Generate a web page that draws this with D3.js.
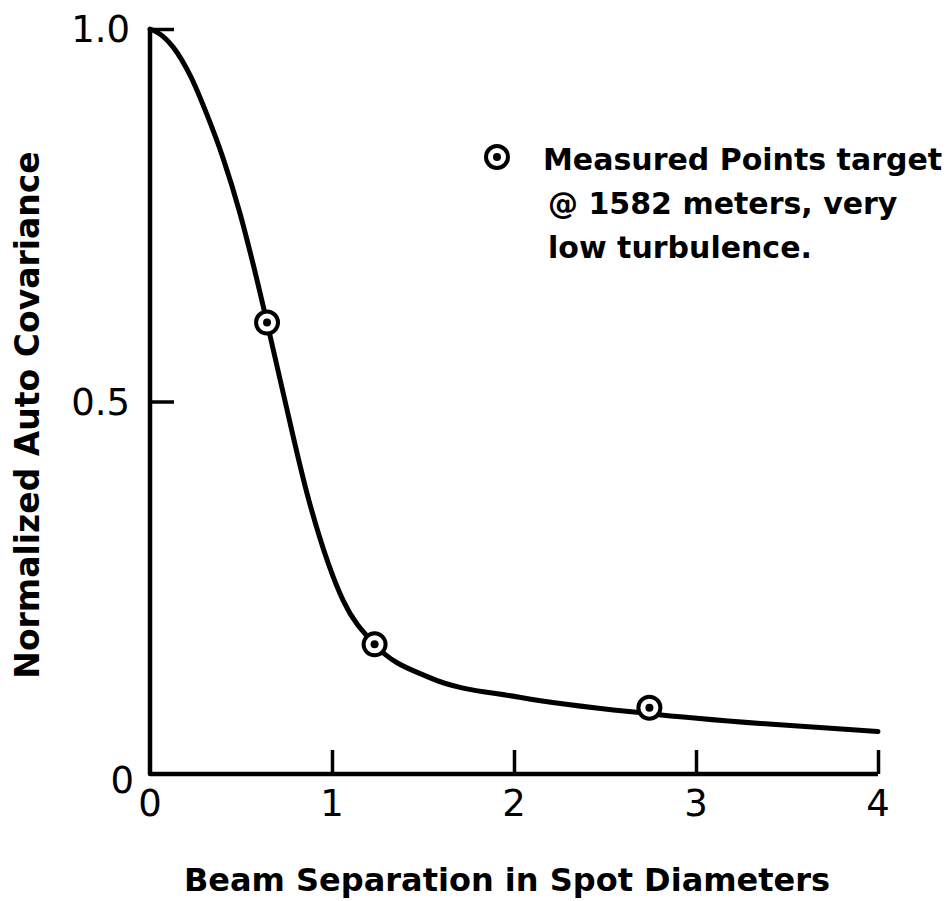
<!DOCTYPE html>
<html><head><meta charset="utf-8">
<script src="https://cdn.jsdelivr.net/npm/d3@7/dist/d3.min.js"></script>
<style>body{margin:0;background:#fff;} svg{display:block;} text{font-family:"DejaVu Sans",sans-serif;fill:#000;}</style>
</head><body>
<svg id="c" width="947" height="901"></svg>
<script>
// ---- data ----
const xTicks = [0, 1, 2, 3, 4];
const xTickLabels = ["0", "1", "2", "3", "4"];
const yTicks = [0, 0.5, 1.0];
const yTickLabels = ["0", "0.5", "1.0"];
const curveX = [0, 0.05, 0.126, 0.22, 0.313, 0.401, 0.495, 0.566, 0.643, 0.733, 0.87, 1.063, 1.234, 1.53, 2.03, 2.74, 3.4, 4.0];
const curveY = [1.0, 0.994, 0.976, 0.938, 0.885, 0.827, 0.752, 0.685, 0.606, 0.51, 0.37, 0.232, 0.174, 0.13, 0.103, 0.081, 0.067, 0.057];
const measuredX = [0.643, 1.234, 2.744];
const measuredY = [0.606, 0.174, 0.089];
const xTitle = "Beam Separation in Spot Diameters";
const yTitle = "Normalized Auto Covariance";
const legendLines = ["Measured Points target", "@ 1582 meters, very", "low turbulence."];

// ---- layout ----
const svg = d3.select("#c");
const x = d3.scaleLinear().domain([0, 4]).range([150, 878]);
const y = d3.scaleLinear().domain([0, 1]).range([774, 29]);

const g = svg.append("g");
// axes (ticks inward)
const xAxis = d3.axisBottom(x).tickValues(xTicks).tickSize(-24).tickFormat("");
const yAxis = d3.axisLeft(y).tickValues(yTicks).tickSize(-24).tickFormat("");
const gx = g.append("g").attr("transform", `translate(0,${y(0)})`).call(xAxis);
const gy = g.append("g").attr("transform", `translate(${x(0)},0)`).call(yAxis);
[gx, gy].forEach(a => {
  a.select(".domain").remove();
  a.selectAll(".tick line").attr("stroke", "#000").attr("stroke-width", 3.5);
});
gy.selectAll(".tick").filter(d => d === 0).remove();
gx.selectAll(".tick").filter(d => d === 0).remove();
// axis lines
g.append("path")
  .attr("d", `M${x(0)},${y(1)} L${x(0)},${y(0)} L${x(4)},${y(0)}`)
  .attr("fill", "none").attr("stroke", "#000").attr("stroke-width", 4.5)
  .attr("stroke-linejoin", "round");

// tick labels
g.selectAll(".xl").data(xTicks).join("text")
  .attr("x", d => x(d)).attr("y", 816)
  .attr("text-anchor", "middle").attr("font-size", 37)
  .text((d, i) => xTickLabels[i]);
g.selectAll(".yl").data(yTicks).join("text")
  .attr("x", (d) => d === 0 ? 134 : 130).attr("y", d => y(d) + (d === 0 ? 19 : 13))
  .attr("text-anchor", "end").attr("font-size", 37)
  .text((d, i) => yTickLabels[i]);

// curve
const pts = curveX.map((v, i) => [v, curveY[i]]);
const line = d3.line().x(d => x(d[0])).y(d => y(d[1])).curve(d3.curveMonotoneX);
g.append("path").attr("d", line(pts)).attr("fill", "none")
  .attr("stroke", "#000").attr("stroke-width", 5).attr("stroke-linecap", "round");

// measured markers
const mpts = measuredX.map((v, i) => [v, measuredY[i]]);
function marker(sel, cx, cy) {
  sel.append("circle").attr("cx", cx).attr("cy", cy).attr("r", 11)
    .attr("fill", "#fff").attr("stroke", "#000").attr("stroke-width", 4);
  sel.append("circle").attr("cx", cx).attr("cy", cy).attr("r", 4).attr("fill", "#000");
}
mpts.forEach(p => marker(g, x(p[0]), y(p[1])));

// legend
marker(g, 497, 157);
legendLines.forEach((t, i) => {
  g.append("text").attr("x", i === 0 ? 543 : 548).attr("y", 170 + i * 44)
    .attr("font-size", 30).attr("font-weight", "bold").text(t);
});

// axis titles
g.append("text").attr("x", 507).attr("y", 891).attr("text-anchor", "middle")
  .attr("font-size", 32).attr("font-weight", "bold").text(xTitle);
g.append("text").attr("transform", "translate(39,415) rotate(-90)")
  .attr("text-anchor", "middle").attr("font-size", 33).attr("font-weight", "bold").text(yTitle);
</script>
</body></html>
